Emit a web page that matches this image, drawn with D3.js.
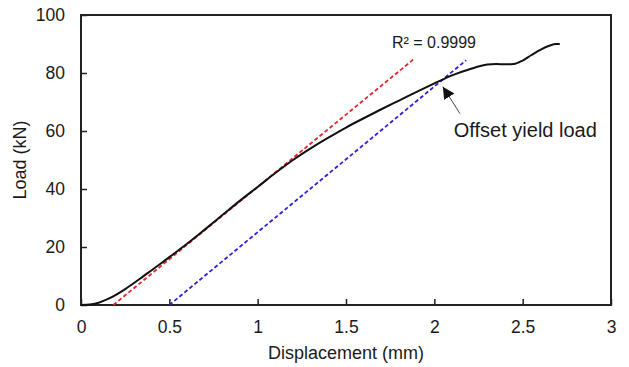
<!DOCTYPE html>
<html>
<head>
<meta charset="utf-8">
<script src="https://cdn.jsdelivr.net/npm/d3@7"></script>
<style>
  body { margin: 0; background: #fff; }
  text { font-family: "Liberation Sans", Arial, sans-serif; fill: #1a1a1a; }
</style>
</head>
<body>
<div id="chart"></div>
<script>
// load-displacement curve (mm, kN)
var disp = [0, 0.05, 0.1, 0.15, 0.2, 0.25, 0.3, 0.35, 0.4, 0.45, 0.5, 0.6, 0.7, 0.8, 0.9, 1.0,
            1.1, 1.2, 1.3, 1.4, 1.5, 1.6, 1.7, 1.8, 1.9, 2.0, 2.1, 2.2, 2.3, 2.35, 2.4, 2.45,
            2.5, 2.55, 2.6, 2.65, 2.69, 2.71];
var load = [0, 0.2, 0.8, 2.0, 3.6, 5.5, 7.6, 9.8, 12.0, 14.2, 16.5, 21.1, 26.0, 31.0, 36.0, 40.7,
            45.5, 50.0, 54.0, 57.7, 61.2, 64.4, 67.5, 70.5, 73.5, 76.4, 79.2, 81.3, 82.9, 83.1, 83.0, 83.1,
            84.3, 86.2, 88.0, 89.4, 90.0, 90.0];

// fitted elastic line and the 0.5 mm offset line
var redLine = [[0.183, 0], [1.88, 84.6]];
var blueLine = [[0.5, 0], [2.18, 84.4]];

var xTicks = [0, 0.5, 1, 1.5, 2, 2.5, 3];
var yTicks = [0, 20, 40, 60, 80, 100];

var margin = {top: 15, right: 18, bottom: 62, left: 81},
    width = 629 - margin.left - margin.right,
    height = 367 - margin.top - margin.bottom;

var svg = d3.select("#chart")
  .append("svg")
    .attr("width", 629)
    .attr("height", 367)
  .append("g")
    .attr("transform", "translate(" + margin.left + "," + margin.top + ")");

var x = d3.scaleLinear().domain([0, 3]).range([0, width]);
var y = d3.scaleLinear().domain([0, 100]).range([height, 0]);

// X axis
var xAxis = svg.append("g")
  .attr("transform", "translate(0," + height + ")")
  .call(d3.axisBottom(x).tickValues(xTicks).tickFormat(d3.format("")).tickSize(-6).tickPadding(16));
// Y axis
var yAxis = svg.append("g")
  .call(d3.axisLeft(y).tickValues(yTicks).tickSize(-6).tickPadding(16));

[xAxis, yAxis].forEach(function(a) {
  a.select(".domain").remove();
  a.selectAll(".tick line").attr("stroke", "#222").attr("stroke-width", 1.5);
  a.selectAll(".tick text")
    .style("font-family", "'Liberation Sans', Arial, sans-serif")
    .style("font-size", "17.5px")
    .attr("fill", "#1a1a1a");
});

// frame
svg.append("rect")
  .attr("width", width)
  .attr("height", height)
  .attr("fill", "none")
  .attr("stroke", "#222")
  .attr("stroke-width", 2);

var line = d3.line()
  .x(function(d) { return x(d[0]); })
  .y(function(d) { return y(d[1]); });

svg.append("path")
  .datum(redLine)
  .attr("d", line)
  .attr("fill", "none")
  .attr("stroke", "#e8242a")
  .attr("stroke-width", 1.8)
  .attr("stroke-dasharray", "4,2.5");

svg.append("path")
  .datum(blueLine)
  .attr("d", line)
  .attr("fill", "none")
  .attr("stroke", "#2a22d6")
  .attr("stroke-width", 1.8)
  .attr("stroke-dasharray", "4,2.5");

svg.append("path")
  .datum(disp.map(function(d, i) { return [d, load[i]]; }))
  .attr("d", line.curve(d3.curveMonotoneX))
  .attr("fill", "none")
  .attr("stroke", "#111")
  .attr("stroke-width", 2);

// arrow to the offset yield point
svg.append("defs").append("marker")
  .attr("id", "head")
  .attr("viewBox", "0 0 10 10")
  .attr("refX", 10).attr("refY", 5)
  .attr("markerWidth", 12).attr("markerHeight", 12)
  .attr("markerUnits", "userSpaceOnUse")
  .attr("orient", "auto")
  .append("path")
  .attr("d", "M0,0L10,5L0,10z")
  .attr("fill", "#111");

svg.append("line")
  .attr("x1", x(2.145)).attr("y1", y(66))
  .attr("x2", x(2.048)).attr("y2", y(75.3))
  .attr("stroke", "#444")
  .attr("stroke-width", 1)
  .attr("marker-end", "url(#head)");

svg.append("text")
  .attr("x", x(2.11))
  .attr("y", y(58.1))
  .style("font-size", "20px")
  .text("Offset yield load");

svg.append("text")
  .attr("x", x(1.76))
  .attr("y", y(88.6))
  .style("font-size", "16px")
  .text("R² = 0.9999");

// axis titles
svg.append("text")
  .attr("x", width / 2)
  .attr("y", height + 54)
  .attr("text-anchor", "middle")
  .style("font-size", "18px")
  .text("Displacement (mm)");

svg.append("text")
  .attr("transform", "translate(" + (-55) + "," + (height / 2) + ") rotate(-90)")
  .attr("text-anchor", "middle")
  .style("font-size", "18px")
  .text("Load (kN)");
</script>
</body>
</html>
